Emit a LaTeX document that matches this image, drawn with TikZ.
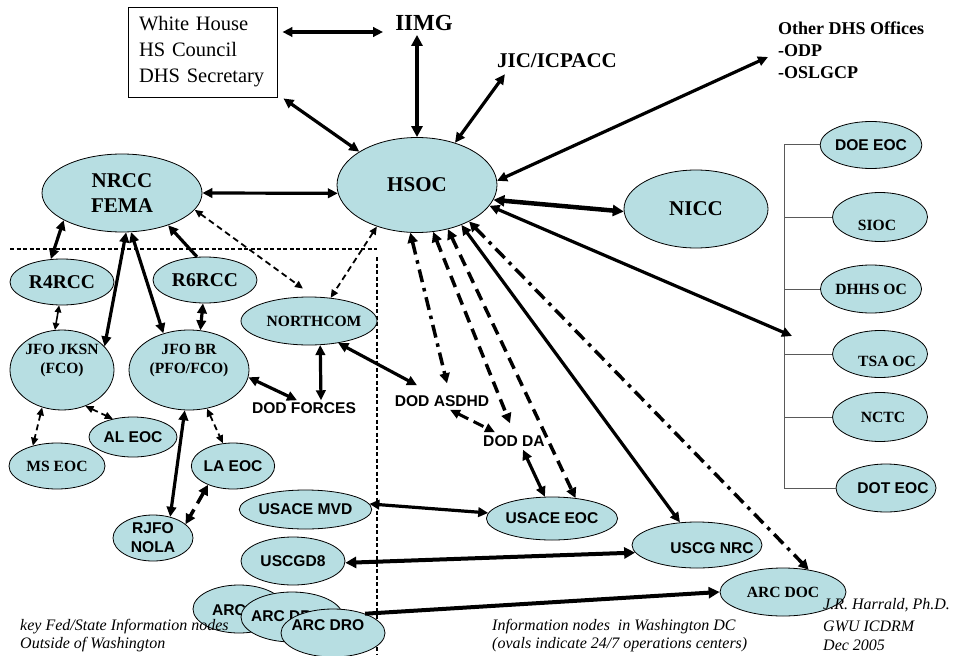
\documentclass[tikz,border=0pt]{standalone}
\usepackage{fontspec}
\setmainfont{Liberation Serif}
\setsansfont{Liberation Sans}
\usetikzlibrary{shapes.geometric,arrows.meta}
\definecolor{nodefill}{RGB}{183,222,226}
\begin{document}
\begin{tikzpicture}[x=1pt,y=-1pt,
  ov/.style={ellipse,draw,fill=nodefill,line width=0.8pt,inner sep=0pt},
  sz/.style 2 args={minimum width=#1,minimum height=#2},
  sb/.style={font=\fontsize{15.6}{19}\selectfont\sffamily\bfseries},
  rb/.style={font=\fontsize{15.6}{19}\selectfont\bfseries},
  rbig/.style={font=\fontsize{21}{25}\selectfont\bfseries},
  txt/.style={inner sep=0pt},
  ann/.style={font=\fontsize{16}{18.5}\selectfont\itshape,inner sep=0pt,align=left,anchor=west},
  solA/.style={<->,line width=3.2pt,>={Triangle[length=10pt,width=9.5pt]}},
  solB/.style={<->,line width=4pt,>={Triangle[length=11pt,width=11pt]}},
  thinA/.style={<->,line width=1.6pt,>={Triangle[length=7pt,width=6.5pt]}},
  dthin/.style={<->,line width=1.8pt,dash pattern=on 6pt off 4pt,>={Triangle[length=8pt,width=7pt]}},
  dthick/.style={<->,line width=3.5pt,dash pattern=on 12pt off 7pt,>={Triangle[length=10pt,width=10pt]}},
  ddot/.style={<->,line width=3.5pt,dash pattern=on 13pt off 6pt on 3.5pt off 6pt,>={Triangle[length=10pt,width=10pt]}},
  bus/.style={line width=1pt,draw=black!65},
  divider/.style={line width=1.1pt,dash pattern=on 4pt off 2.5pt}
]
\useasboundingbox (0,0) rectangle (957,655);

% dividers
\draw[divider] (10,249) -- (377,249);
\draw[divider] (377,257) -- (377,655);

% top text nodes
\node[draw,line width=0.9pt,font=\fontsize{20.5}{26}\selectfont,align=left,text width=127pt,inner xsep=11pt,inner ysep=0pt,minimum height=90pt] (wh) at (202.5,52) {White House\\HS Council\\DHS Secretary};
\node[txt,font=\fontsize{23}{26}\selectfont\bfseries] (iimg) at (424,23) {IIMG};
\node[txt,font=\fontsize{21}{25}\selectfont\bfseries] (jic) at (557,61) {JIC/ICPACC};
\node[txt,font=\fontsize{18}{22}\selectfont\bfseries,align=left,anchor=west] (other) at (778,50) {Other DHS Offices\\-ODP\\-OSLGCP};

% main ellipses
\node[ov,rbig,sz={160pt}{95pt}] (hsoc) at (417,185) {HSOC};
\node[ov,rbig,sz={160pt}{78pt},align=center] (nrcc) at (122,193) {NRCC\\FEMA};
\node[ov,rbig,sz={144pt}{78pt}] (nicc) at (696,209) {NICC};

% left region
\node[ov,font=\fontsize{19.5}{22}\selectfont\bfseries,sz={104pt}{46pt}] (r4) at (62,282) {R4RCC};
\node[ov,font=\fontsize{19.5}{22}\selectfont\bfseries,sz={104pt}{46pt}] (r6) at (205,280) {R6RCC};
\node[ov,sz={136pt}{48pt},label={[rb,xshift=5pt]center:NORTHCOM}] (northcom) at (309,321) {};
\node[ov,sz={104pt}{80pt},label={[rb,align=center,yshift=10pt]center:JFO JKSN\\(FCO)}] (jksn) at (62,370) {};
\node[ov,sz={120pt}{80pt},label={[rb,align=center,yshift=10pt]center:JFO BR\\(PFO/FCO)}] (jfobr) at (189,370) {};
\node[ov,sb,sz={88pt}{40pt}] (aleoc) at (133,437) {AL EOC};
\node[ov,rb,sz={96pt}{46pt}] (mseoc) at (57,466) {MS EOC};
\node[ov,sb,sz={80pt}{46pt}] (laeoc) at (233,466) {LA EOC};
\node[ov,sb,sz={80pt}{46pt},align=center] (rjfo) at (153,538) {RJFO\\NOLA};
\node[ov,sb,sz={113pt}{39pt}] (mvd) at (305.5,509.5) {USACE MVD};
\node[ov,sb,sz={104pt}{48pt}] (uscgd8) at (293,561) {USCGD8};
\node[ov,sz={92pt}{48pt},label={[sb,xshift=9.5pt,yshift=-1pt]center:ARC DRO}] (arc1) at (239,609) {};
\node[ov,sz={102pt}{50pt},label={[sb,xshift=-4.5pt,yshift=1pt]center:ARC DRO}] (arc2) at (292,617) {};
\node[ov,sz={104pt}{48pt},label={[sb,xshift=-5pt,yshift=8pt]center:ARC DRO}] (arcdro) at (333,633) {};

% DOD text nodes
\node[txt,sb] (dodf) at (304,408) {DOD FORCES};
\node[txt,sb] (asdhd) at (442,401) {DOD ASDHD};
\node[txt,sb] (dodda) at (514,441) {DOD DA};

% Washington nodes
\node[ov,sb,sz={130pt}{43pt}] (usacee) at (552,518.5) {USACE EOC};
\node[ov,sz={130pt}{46pt},label={[sb,xshift=15pt,yshift=-3pt]center:USCG NRC}] (uscgnrc) at (697,545) {};
\node[ov,rb,sz={126pt}{48pt}] (arcdoc) at (783,592) {ARC DOC};

% right column
\node[ov,sb,sz={96pt}{47pt}] (doe) at (871,145) {DOE EOC};
\node[ov,sz={95pt}{49pt},label={[rb,xshift=-3pt,yshift=-8pt]center:SIOC}] (sioc) at (880,217) {};
\node[ov,rb,sz={96pt}{48pt}] (dhhs) at (871,289) {DHHS OC};
\node[ov,sz={95pt}{47pt},label={[rb,xshift=7pt,yshift=-7pt]center:TSA OC}] (tsa) at (880,354) {};
\node[ov,sz={95pt}{49pt},label={[rb,xshift=3pt]center:NCTC}] (nctc) at (880,417) {};
\node[ov,sz={100pt}{48pt},label={[sb,xshift=7pt]center:DOT EOC}] (dot) at (886,488) {};

% bus
\coordinate (bustop) at (784,145);
\coordinate (tsatip) at (792,336);
\draw[bus] (bustop) -- (dot.west -| bustop);
\foreach \n in {doe,sioc,dhhs,tsa,nctc,dot}
  \draw[bus] (\n.west) -- (\n.west -| bustop);

% annotations
\node[ann] (key) at (20,635.5) {key Fed/State Information nodes\\Outside of Washington};
\node[ann] (info) at (492,635.5) {Information nodes \ in Washington DC\\(ovals indicate 24/7 operations centers)};
\node[ann] (auth) at (823,624.5) {J.R. Harrald, Ph.D.\\[3.5pt]GWU ICDRM\\Dec 2005};

% connectors around HSOC
\draw[solA] ([xshift=5pt,yshift=20pt]wh.east) -- ([xshift=-12pt,yshift=-9pt]iimg.west);
\draw[solB] ([xshift=-7pt,yshift=-4pt]iimg.south) -- (hsoc.90);
\draw[solA] ([xshift=6pt,yshift=-1pt]wh.south east) -- (hsoc.150);
\draw[solA] (hsoc.48) -- ([xshift=8pt,yshift=-6pt]jic.south west);
\draw[solA] (hsoc.3) -- ([xshift=-10pt,yshift=-7pt]other.west);
\draw[<->,line width=4.5pt,>={Triangle[length=11pt,width=11pt]}] (hsoc.-11) -- (nicc.182);
\draw[solA] (hsoc.-16) -- (tsatip);
\draw[solA] (nrcc.0) -- (hsoc.186);

% NRCC region
\draw[solA] (nrcc.205) -- (r4.116);
\draw[solA] (nrcc.276) -- (jksn.29);
\draw[solA] (nrcc.283) -- (jfobr.125);
\draw[solA,<-] (nrcc.325) -- (r6.109);
\draw[dthin] (nrcc.347) -- ([xshift=-6pt,yshift=8pt]northcom.north);
\draw[dthin] (hsoc.226) -- (northcom.47);
\draw[thinA] (r4.263) -- (jksn.100);
\draw[solA] (r6.265) -- (jfobr.74);
\draw[solA] (northcom.295) -- ([xshift=17pt,yshift=2pt]dodf.north);
\draw[solA] (jfobr.353) -- ([xshift=-7pt,yshift=2pt]dodf.north);
\draw[solA] (northcom.323) -- ([xshift=-25pt,yshift=10pt]asdhd.north);
\draw[dthin] (jksn.242) -- (mseoc.140);
\draw[dthin] (jksn.303) -- (aleoc.138);
\draw[dthin] (jfobr.295) -- (laeoc.114);
\draw[solA] (jfobr.264) -- (rjfo.51);
\draw[dthick] (laeoc.217) -- (rjfo.23);

% HSOC downward
\draw[ddot] (hsoc.262) -- ([xshift=5pt,yshift=12pt]asdhd.north);
\draw[dthick] (hsoc.289) -- ([xshift=-4pt,yshift=12pt]dodda.north);
\draw[dthick] (hsoc.305) -- (usacee.41);
\draw[solA] (hsoc.318) -- (uscgnrc.127);
\draw[ddot] (hsoc.325) -- (arcdoc.41);
\draw[<->,line width=3pt,dash pattern=on 11pt off 6pt,>={Triangle[length=10pt,width=9pt]}] ([xshift=8pt,yshift=-3pt]asdhd.south) -- ([xshift=-19pt,yshift=3pt]dodda.north);
\draw[solA] ([xshift=9pt,yshift=-3pt]dodda.south) -- (usacee.108);
\draw[solA] (mvd.5) -- (usacee.175);
\draw[solB] (uscgd8.-2) -- (uscgnrc.187);
\draw[solB,->] (arcdro.31) -- (arcdoc.180);
\end{tikzpicture}
\end{document}
